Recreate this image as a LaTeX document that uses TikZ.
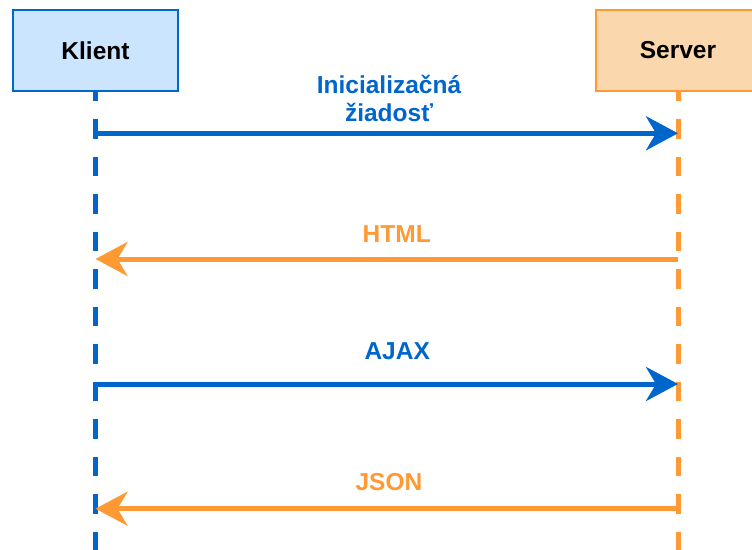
\documentclass[tikz,border=0pt]{standalone}
\usepackage{fontspec}
\setmainfont{Liberation Sans}
\usetikzlibrary{arrows.meta}

\definecolor{modra}{HTML}{0066CC}
\definecolor{oranzova}{HTML}{FF9933}
\definecolor{modrapozadie}{HTML}{CCE5FF}
\definecolor{oranzovapozadie}{HTML}{FAD7AC}

\begin{document}
\begin{tikzpicture}[x=1pt, y=-1pt,
    aktor/.style={draw, line width=2pt, minimum width=165pt, minimum height=81pt,
        font=\fontsize{24.5}{29}\selectfont\bfseries},
    zivot/.style={line width=5pt, dash pattern=on 19.3pt off 18.2pt, dash phase=10.3pt},
    sprava/.style={line width=5pt, -{Stealth[length=32pt, width=34pt, inset=10pt]}},
    popis/.style={font=\fontsize{24.5}{28}\selectfont\bfseries, anchor=base,
        align=center, inner sep=0pt}]
    \useasboundingbox (0,0) rectangle (752,549);

    % Ucastnici
    \node[aktor, fill=modrapozadie, draw=modra] (klient) at (95.5,50.5) {Klient};
    \node[aktor, fill=oranzovapozadie, draw=oranzova] (server) at (678,50.5) {Server};

    % Ziarovane ciary
    \coordinate (kdol) at (95.5,560);
    \coordinate (sdol) at (678,560);
    \draw[zivot, modra] (klient.south) -- (kdol);
    \draw[zivot, oranzova] (server.south) -- (sdol);

    % Body sprav
    \coordinate (k1) at (95.5,133.3);
    \coordinate (s1) at (678,133.3);
    \coordinate (s2) at (678,259);
    \coordinate (k2) at (95.5,259);
    \coordinate (k3) at (95.5,384);
    \coordinate (s3) at (678,384);
    \coordinate (s4) at (678,508.7);
    \coordinate (k4) at (95.5,508.7);

    % Spravy
    \draw[sprava, modra] (k1) -- (s1);
    \draw[sprava, oranzova] (s2) -- (k2);
    \draw[sprava, modra] (k3) -- (s3);
    \draw[sprava, oranzova] (s4) -- (k4);

    % Popisy
    \node[popis, text=modra] (ziadost) at (389,121) {Inicializačná\\žiadosť};
    \node[popis, text=oranzova] (html) at (396.7,242.3) {HTML};
    \node[popis, text=modra] (ajax) at (397.2,359) {AJAX};
    \node[popis, text=oranzova] (json) at (388.9,490.7) {JSON};
\end{tikzpicture}
\end{document}
